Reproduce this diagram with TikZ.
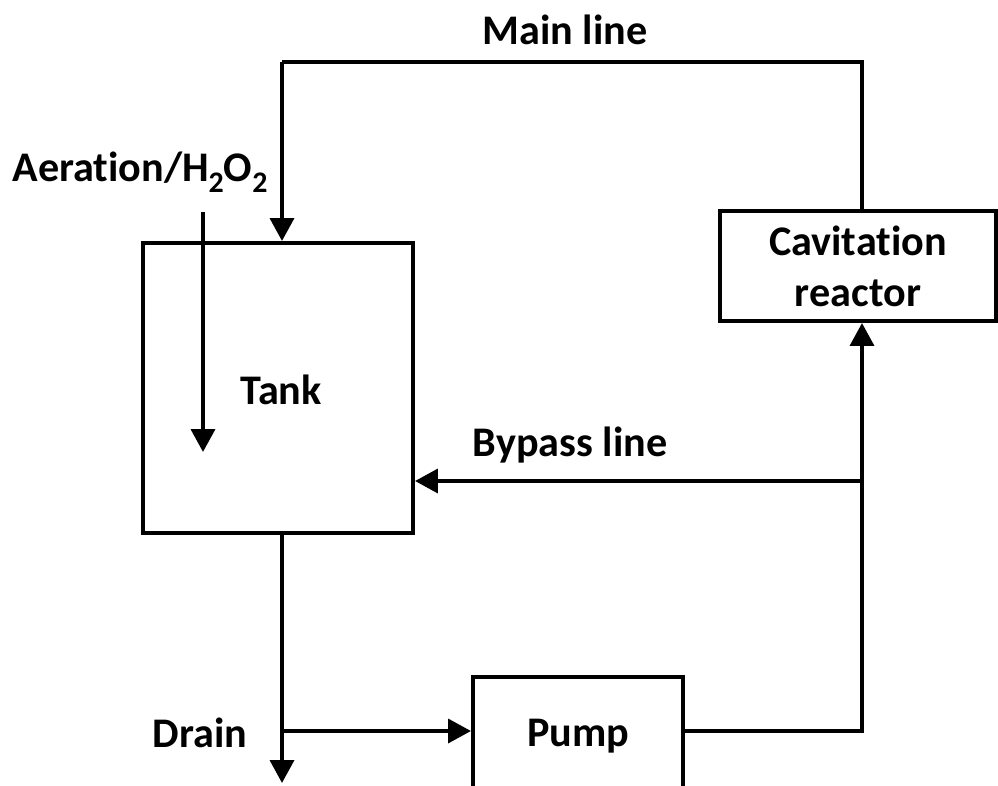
\documentclass[tikz,border=0pt]{standalone}
\usepackage{fontspec}
\setmainfont{Carlito}[Ligatures=NoCommon]
\usetikzlibrary{arrows.meta,calc}
\newcommand{\subtwo}{\raisebox{-0.55ex}{\fontsize{17}{17}\selectfont 2}}
\begin{document}
\begin{tikzpicture}[x=0.02cm,y=-0.02cm,
  every node/.style={font=\fontsize{24}{29}\selectfont\bfseries},
  unit/.style={draw,line width=2.3pt,inner sep=0pt,align=center},
  flow/.style={line width=2.3pt,-{Triangle[length=13pt,width=13.5pt]}},
  pipe/.style={line width=2.3pt}]
\useasboundingbox (0,0) rectangle (998,785);
\clip (0,0) rectangle (998,785);
\node[unit,minimum width=5.4cm,minimum height=5.8cm] (tank) at (278,388) {};
\node (tanklbl) at (281,390) {Tank};
\node[unit,minimum width=5.52cm,minimum height=2.2cm] (reactor) at (858,266) {Cavitation\\[0pt]reactor};
\node[unit,minimum width=4.2cm,minimum height=2.36cm] (pump) at (578,736) {Pump};
\coordinate (ml) at (282,62);
\coordinate (mr) at (862,62);
\coordinate (br) at (862,481);
\coordinate (pr) at (862,731);
\coordinate (dj) at (282,731);
\coordinate (dend) at (282,783);
\coordinate (astart) at (203,212);
\coordinate (aend) at (203,452);
\node (mainlbl) at (565,30) {Main line};
\node (aerlbl) at (140,172) {Aeration/H\subtwo O\subtwo};
\node (bylbl) at (570,445) {Bypass line};
\node (drlbl) at (200,733) {Drain};
% main line
\draw[pipe] (reactor.north -| mr) -- (mr) -- (ml);
\draw[flow] (ml) -- (tank.north -| ml);
% aeration
\draw[flow] (astart) -- (aend);
% bypass
\draw[flow] (br) -- (tank.east |- br);
% pump to reactor
\draw[pipe] (pump.east |- pr) -- (pr) -- (br);
\draw[flow] (br) -- (reactor.south -| br);
% drain
\draw[flow] (tank.south -| dj) -- (dend);
\draw[flow] (dj) -- (pump.west |- dj);
\end{tikzpicture}
\end{document}
